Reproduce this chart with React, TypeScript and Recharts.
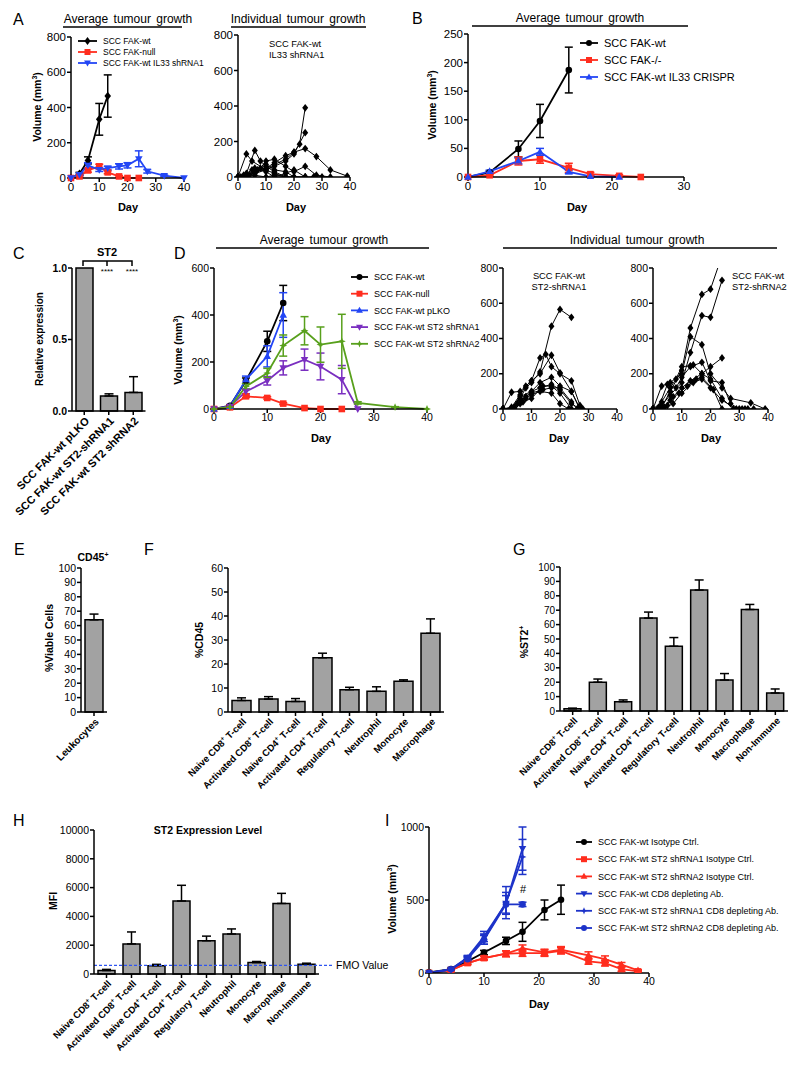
import React from "react";
import {
  Bar,
  BarChart,
  ErrorBar,
  Line,
  LineChart,
  ReferenceLine,
  Scatter,
  ScatterChart,
  XAxis,
  YAxis,
} from "recharts";

const FONT = "'Liberation Sans', Arial, Helvetica, sans-serif";
const RED = "#ff2d1e";
const BLUE = "#2346f5";
const DBLUE = "#1d33c9";
const PURPLE = "#7a2fc0";
const GREEN = "#58a01c";
const GREY = "#a2a2a2";

// ---- A: average growth
const A_WT_DAY = [0, 3, 6, 10, 13];
const A_WT_VOL = [0, 24, 100, 333, 465];
const A_WT_SEM = [0, 8, 20, 90, 120];
const A_NULL_DAY = [0, 3, 6, 10, 13, 17, 20, 24];
const A_NULL_VOL = [0, 9, 43, 66, 32, 9, 0, 0];
const A_NULL_SEM = [0, 4, 10, 12, 8, 5, 0, 0];
const A_IL33_DAY = [0, 3, 6, 10, 13, 17, 20, 24, 27, 33, 40];
const A_IL33_VOL = [0, 19, 72, 47, 56, 66, 72, 109, 38, 13, 0];
const A_IL33_SEM = [0, 5, 15, 10, 10, 15, 15, 45, 10, 4, 0];

// ---- A: individual tumours (IL33 shRNA1), [day, volume]
const A_TUMOURS = [
  [[0, 0], [3, 10], [6, 30], [10, 45], [13, 70], [17, 100], [20, 140], [22, 185], [24, 390]],
  [[0, 0], [3, 5], [6, 20], [10, 40], [13, 60], [17, 90], [20, 130], [24, 250]],
  [[0, 0], [3, 10], [6, 30], [10, 50], [13, 80], [17, 120], [20, 140], [24, 160], [28, 115], [33, 40], [39, 5]],
  [[0, 0], [3, 20], [6, 150], [8, 90], [10, 60], [13, 30], [17, 0], [20, 0]],
  [[0, 0], [3, 130], [5, 90], [10, 40], [13, 20], [17, 0], [24, 0]],
  [[0, 0], [2, 10], [5, 40], [8, 50], [10, 90], [13, 100], [17, 60], [20, 30], [24, 60], [28, 10], [33, 0]],
  [[0, 0], [3, 0], [6, 50], [10, 30], [13, 0], [17, 20], [20, 40], [24, 0], [27, 0], [30, 0]],
  [[0, 0], [4, 10], [7, 40], [10, 70], [13, 40], [17, 30], [20, 0], [24, 0]],
  [[1, 0], [3, 0], [6, 10], [10, 0], [13, 10], [17, 0]],
];

// ---- B
const B_WT_DAY = [0, 3, 7, 10, 14];
const B_WT_VOL = [0, 8, 49, 98, 187];
const B_WT_SEM = [0, 2, 14, 29, 40];
const B_KO_DAY = [0, 3, 7, 10, 14, 17, 21, 24];
const B_KO_VOL = [0, 3, 28, 31, 16, 5, 2, 0];
const B_KO_SEM = [0, 1, 7, 7, 8, 3, 2, 0];
const B_CR_DAY = [0, 3, 7, 10, 14, 17, 21];
const B_CR_VOL = [0, 10, 28, 44, 9, 1, 0];
const B_CR_SEM = [0, 2, 5, 6, 3, 1, 0];

// ---- C
const C_LINES = ["SCC FAK-wt pLKO", "SCC FAK-wt ST2-shRNA1", "SCC FAK-wt ST2 shRNA2"];
const C_EXPR = [1.0, 0.105, 0.13];
const C_SEM = [0, 0.015, 0.11];

// ---- D: average growth
const D_WT_DAY = [0, 3, 6, 10, 13];
const D_WT_VOL = [0, 14, 120, 288, 451];
const D_WT_SEM = [0, 3, 12, 43, 75];
const D_NULL_DAY = [0, 3, 6, 10, 13, 17, 20, 24];
const D_NULL_VOL = [0, 7, 54, 47, 23, 4, 0, 0];
const D_NULL_SEM = [0, 2, 5, 5, 4, 2, 0, 0];
const D_PLKO_DAY = [0, 3, 6, 10, 13];
const D_PLKO_VOL = [0, 11, 125, 224, 400];
const D_PLKO_SEM = [0, 3, 15, 45, 95];
const D_SH1_DAY = [0, 3, 6, 10, 13, 17, 20, 24, 27];
const D_SH1_VOL = [0, 11, 75, 120, 175, 210, 181, 125, 0];
const D_SH1_SEM = [0, 3, 10, 18, 30, 45, 57, 60, 0];
const D_SH2_DAY = [0, 3, 6, 10, 13, 17, 20, 24, 27, 34, 40];
const D_SH2_VOL = [0, 8, 96, 153, 270, 333, 274, 288, 26, 8, 0];
const D_SH2_SEM = [0, 2, 12, 20, 45, 60, 75, 115, 5, 2, 0];

// ---- D: individual tumours
const D_SH1_TUMOURS = [
  [[0, 0], [3, 5], [6, 60], [8, 120], [10, 150], [13, 210], [17, 470], [20, 565], [24, 520]],
  [[0, 0], [3, 95], [6, 100], [10, 160], [13, 290], [15, 310], [17, 240], [20, 200], [24, 160], [27, 20]],
  [[0, 0], [3, 10], [6, 80], [8, 130], [10, 160], [13, 200], [17, 305], [20, 205], [24, 100], [27, 0]],
  [[0, 0], [3, 0], [6, 70], [10, 100], [13, 150], [17, 180], [20, 130], [24, 100], [27, 0]],
  [[0, 0], [3, 0], [5, 30], [8, 70], [10, 100], [13, 120], [17, 140], [20, 110], [24, 30], [27, 0]],
  [[0, 0], [4, 10], [6, 50], [10, 90], [14, 110], [17, 120], [20, 120], [24, 40], [26, 0]],
  [[0, 0], [3, 0], [6, 30], [8, 60], [10, 80], [13, 100], [17, 90], [20, 30], [23, 0]],
  [[0, 0], [4, 0], [7, 40], [10, 60], [14, 130], [17, 130], [20, 90], [24, 0], [28, 0]],
];
const D_SH2_TUMOURS = [
  [[0, 0], [3, 10], [6, 100], [10, 220], [13, 460], [17, 650], [20, 680], [24, 870]],
  [[0, 0], [3, 20], [6, 80], [10, 150], [13, 320], [17, 530], [20, 520], [24, 730]],
  [[0, 0], [3, 130], [6, 150], [10, 200], [13, 410], [17, 365], [20, 200], [24, 120], [27, 60], [34, 35], [39, 0]],
  [[0, 0], [3, 40], [6, 120], [8, 170], [10, 240], [13, 245], [14, 250], [17, 200], [20, 240], [24, 290]],
  [[0, 0], [2, 10], [5, 140], [8, 120], [10, 180], [13, 240], [17, 265], [20, 160], [24, 150], [27, 30], [30, 0], [33, 0]],
  [[0, 0], [3, 0], [5, 20], [7, 70], [10, 120], [13, 160], [17, 200], [20, 170], [24, 60], [28, 0], [31, 0]],
  [[0, 0], [4, 10], [6, 50], [9, 90], [12, 130], [15, 170], [17, 180], [21, 110], [24, 0]],
  [[0, 0], [3, 0], [7, 30], [10, 90], [14, 150], [17, 170], [20, 120], [24, 50], [29, 0], [32, 0], [35, 0]],
];

// ---- E, F, G, H
const E_CELLS = ["Leukocytes"];
const E_PCT = [64];
const E_SEM = [4];
const F_CELLS = [
  "Naive CD8+ T-cell",
  "Activated CD8+ T-cell",
  "Naive CD4+ T-cell",
  "Activated CD4+ T-cell",
  "Regulatory T-cell",
  "Neutrophil",
  "Monocyte",
  "Macrophage",
];
const F_PCT = [4.8, 5.4, 4.4, 22.6, 9.3, 8.6, 12.8, 32.8];
const F_SEM = [1.1, 1.0, 1.2, 1.9, 1.0, 1.9, 0.6, 6.0];
const G_CELLS = [...F_CELLS, "Non-Immune"];
const G_PCT = [1.5, 20, 6.5, 64.5, 45, 84, 21.5, 70.5, 12.5];
const G_SEM = [0.5, 2.2, 1.2, 4.2, 6, 7, 4.5, 3.5, 2.8];
const H_MFI = [240, 2090, 580, 5070, 2310, 2780, 790, 4900, 670];
const H_SEM = [80, 830, 90, 1090, 320, 350, 80, 700, 80];
const H_FMO = 600;

// ---- I
const I_ISO_DAY = [0, 4, 7, 10, 14, 17, 21, 24];
const I_ISO_VOL = [5, 27, 80, 140, 220, 282, 432, 502];
const I_ISO_SEM = [0, 5, 10, 15, 25, 65, 68, 100];
const I_SH_DAY = [0, 4, 7, 10, 14, 17, 21, 24, 29, 32, 35, 38];
const I_SH1_VOL = [0, 20, 68, 102, 132, 136, 136, 152, 80, 68, 27, 11];
const I_SH1_SEM = [0, 5, 10, 12, 20, 22, 22, 22, 20, 20, 15, 5];
const I_SH2_VOL = [0, 20, 68, 102, 132, 170, 141, 159, 120, 95, 57, 18];
const I_SH2_SEM = [0, 5, 10, 12, 20, 22, 22, 22, 25, 22, 15, 5];
const I_CD8_DAY = [0, 4, 7, 10, 14, 17];
const I_CD8_VOL = [0, 25, 107, 250, 477, 852];
const I_CD8_SEM = [0, 5, 12, 35, 75, 148];
const I_SH1CD8_VOL = [0, 25, 102, 232, 482, 795];
const I_SH1CD8_SEM = [0, 5, 12, 35, 110, 120];
const I_SH2CD8_VOL = [0, 25, 95, 227, 470, 470];
const I_SH2CD8_SEM = [0, 5, 12, 30, 60, 15];

type Series = {
  key: string;
  label: string;
  day: number[];
  vol: number[];
  sem: number[];
  color: string;
  shape: string;
};

function table(series: Series[]) {
  const days = Array.from(new Set(series.flatMap((s) => s.day))).sort((a, b) => a - b);
  return days.map((d) => {
    const row: Record<string, number> = { day: d };
    series.forEach((s) => {
      const i = s.day.indexOf(d);
      if (i >= 0) {
        row[s.key] = s.vol[i];
        if (s.sem[i] > 0) row[s.key + "E"] = s.sem[i];
      }
    });
    return row;
  });
}

const A_SERIES: Series[] = [
  { key: "wt", label: "SCC FAK-wt", day: A_WT_DAY, vol: A_WT_VOL, sem: A_WT_SEM, color: "#000", shape: "diamond" },
  { key: "nul", label: "SCC FAK-null", day: A_NULL_DAY, vol: A_NULL_VOL, sem: A_NULL_SEM, color: RED, shape: "square" },
  { key: "il", label: "SCC FAK-wt IL33 shRNA1", day: A_IL33_DAY, vol: A_IL33_VOL, sem: A_IL33_SEM, color: BLUE, shape: "down" },
];
const B_SERIES: Series[] = [
  { key: "wt", label: "SCC FAK-wt", day: B_WT_DAY, vol: B_WT_VOL, sem: B_WT_SEM, color: "#000", shape: "circle" },
  { key: "ko", label: "SCC FAK-/-", day: B_KO_DAY, vol: B_KO_VOL, sem: B_KO_SEM, color: RED, shape: "square" },
  { key: "cr", label: "SCC FAK-wt IL33 CRISPR", day: B_CR_DAY, vol: B_CR_VOL, sem: B_CR_SEM, color: BLUE, shape: "up" },
];
const D_SERIES: Series[] = [
  { key: "wt", label: "SCC FAK-wt", day: D_WT_DAY, vol: D_WT_VOL, sem: D_WT_SEM, color: "#000", shape: "circle" },
  { key: "nul", label: "SCC FAK-null", day: D_NULL_DAY, vol: D_NULL_VOL, sem: D_NULL_SEM, color: RED, shape: "square" },
  { key: "pl", label: "SCC FAK-wt pLKO", day: D_PLKO_DAY, vol: D_PLKO_VOL, sem: D_PLKO_SEM, color: BLUE, shape: "up" },
  { key: "s1", label: "SCC FAK-wt ST2 shRNA1", day: D_SH1_DAY, vol: D_SH1_VOL, sem: D_SH1_SEM, color: PURPLE, shape: "down" },
  { key: "s2", label: "SCC FAK-wt ST2 shRNA2", day: D_SH2_DAY, vol: D_SH2_VOL, sem: D_SH2_SEM, color: GREEN, shape: "star" },
];
const I_SERIES: Series[] = [
  { key: "iso", label: "SCC FAK-wt Isotype Ctrl.", day: I_ISO_DAY, vol: I_ISO_VOL, sem: I_ISO_SEM, color: "#000", shape: "circle" },
  { key: "s1", label: "SCC FAK-wt ST2 shRNA1 Isotype Ctrl.", day: I_SH_DAY, vol: I_SH1_VOL, sem: I_SH1_SEM, color: RED, shape: "square" },
  { key: "s2", label: "SCC FAK-wt ST2 shRNA2 Isotype Ctrl.", day: I_SH_DAY, vol: I_SH2_VOL, sem: I_SH2_SEM, color: RED, shape: "up" },
  { key: "cd8", label: "SCC FAK-wt CD8 depleting Ab.", day: I_CD8_DAY, vol: I_CD8_VOL, sem: I_CD8_SEM, color: DBLUE, shape: "down" },
  { key: "c1", label: "SCC FAK-wt ST2 shRNA1 CD8 depleting Ab.", day: I_CD8_DAY, vol: I_SH1CD8_VOL, sem: I_SH1CD8_SEM, color: DBLUE, shape: "star" },
  { key: "c2", label: "SCC FAK-wt ST2 shRNA2 CD8 depleting Ab.", day: I_CD8_DAY, vol: I_SH2CD8_VOL, sem: I_SH2CD8_SEM, color: DBLUE, shape: "circle" },
];

function glyph(shape: string, cx: number, cy: number, r: number, color: string) {
  switch (shape) {
    case "circle":
      return <circle cx={cx} cy={cy} r={r} fill={color} />;
    case "square":
      return <rect x={cx - r} y={cy - r} width={2 * r} height={2 * r} fill={color} />;
    case "diamond":
      return <polygon points={`${cx},${cy - r * 1.3} ${cx + r},${cy} ${cx},${cy + r * 1.3} ${cx - r},${cy}`} fill={color} />;
    case "up":
      return <polygon points={`${cx},${cy - r * 1.2} ${cx + r * 1.15},${cy + r * 0.8} ${cx - r * 1.15},${cy + r * 0.8}`} fill={color} />;
    case "down":
      return <polygon points={`${cx},${cy + r * 1.2} ${cx + r * 1.15},${cy - r * 0.8} ${cx - r * 1.15},${cy - r * 0.8}`} fill={color} />;
    default: {
      const a = r * 1.2;
      const b = r * 0.35;
      return (
        <polygon
          points={`${cx},${cy - a} ${cx + b},${cy - b} ${cx + a},${cy} ${cx + b},${cy + b} ${cx},${cy + a} ${cx - b},${cy + b} ${cx - a},${cy} ${cx - b},${cy - b}`}
          fill={color}
        />
      );
    }
  }
}

function marker(shape: string, color: string, r = 3.3) {
  return (p: any) => {
    const { cx, cy, index } = p;
    if (typeof cx !== "number" || typeof cy !== "number" || isNaN(cy) || p.value == null)
      return <g key={`n${index}`} />;
    return <g key={`d${index}`}>{glyph(shape, cx, cy, r, color)}</g>;
  };
}

function frame(x0: number, y0: number, x1: number, y1: number, xh = 24, mr = 12, ml = 0) {
  const yw = 46;
  const mt = 12;
  return {
    style: { position: "absolute" as const, left: x0 - yw - ml, top: y0 - mt },
    width: x1 - x0 + yw + mr + ml,
    height: y1 - y0 + mt + xh,
    margin: { top: mt, right: mr, bottom: 0, left: ml },
    yw,
    xh,
  };
}

const axisLine = { stroke: "#000", strokeWidth: 1.5 };
const tickLine = { stroke: "#000", strokeWidth: 1.5 };
const tickStyle = (fs: number, bold = false) => ({
  fontSize: fs,
  fill: "#000",
  fontFamily: FONT,
  fontWeight: bold ? "bold" : "normal",
});

function AvgChart({ f, series, xMax, xTicks, yMax, yTicks, fs, overflow = false }: any) {
  const data = table(series);
  return (
    <div style={f.style}>
      <LineChart width={f.width} height={f.height} margin={f.margin} data={data}>
        <XAxis
          type="number"
          dataKey="day"
          domain={[0, xMax]}
          ticks={xTicks}
          interval={0}
          height={f.xh}
          axisLine={axisLine}
          tickLine={tickLine}
          tickSize={4}
          tickMargin={1}
          tick={tickStyle(fs)}
        />
        <YAxis
          type="number"
          domain={[0, yMax]}
          ticks={yTicks}
          interval={0}
          width={f.yw}
          allowDataOverflow={overflow}
          axisLine={axisLine}
          tickLine={tickLine}
          tickSize={4}
          tickMargin={1}
          tick={tickStyle(fs)}
        />
        {series.map((s: Series) => (
          <Line
            key={s.key}
            dataKey={s.key}
            stroke={s.color}
            strokeWidth={1.8}
            connectNulls
            dot={marker(s.shape, s.color)}
            activeDot={false}
            isAnimationActive={false}
          >
            <ErrorBar dataKey={s.key + "E"} width={4} stroke={s.color} strokeWidth={1.5} direction="y" isAnimationActive={false} />
          </Line>
        ))}
      </LineChart>
    </div>
  );
}

function diamondShape(p: any) {
  if (typeof p.cx !== "number" || typeof p.cy !== "number") return <g />;
  return glyph("diamond", p.cx, p.cy, 3, "#000");
}

function IndivChart({ f, tumours, fs }: any) {
  return (
    <div style={f.style}>
      <ScatterChart width={f.width} height={f.height} margin={f.margin}>
        <XAxis
          type="number"
          dataKey="x"
          domain={[0, 40]}
          ticks={[0, 10, 20, 30, 40]}
          interval={0}
          height={f.xh}
          axisLine={axisLine}
          tickLine={tickLine}
          tickSize={4}
          tickMargin={1}
          tick={tickStyle(fs)}
        />
        <YAxis
          type="number"
          dataKey="y"
          domain={[0, 800]}
          ticks={[0, 200, 400, 600, 800]}
          interval={0}
          width={f.yw}
          allowDataOverflow
          axisLine={axisLine}
          tickLine={tickLine}
          tickSize={4}
          tickMargin={1}
          tick={tickStyle(fs)}
        />
        {tumours.map((t: number[][], i: number) => (
          <Scatter
            key={i}
            data={t.map(([x, y]) => ({ x, y }))}
            fill="#000"
            line={{ stroke: "#000", strokeWidth: 1 }}
            shape={diamondShape}
            isAnimationActive={false}
          />
        ))}
      </ScatterChart>
    </div>
  );
}

function withSup(label: string, fs: number) {
  const i = label.indexOf("+");
  if (i < 0) return label;
  return [
    label.slice(0, i),
    <tspan key="s" dy={-fs * 0.4} fontSize={fs * 0.65}>+</tspan>,
    <tspan key="r" dy={fs * 0.4}>{label.slice(i + 1)}</tspan>,
  ];
}

function rotTick(fs: number) {
  return (p: any) => (
    <g transform={`translate(${p.x + 3},${p.y + 2})`}>
      <text
        transform="rotate(-45)"
        textAnchor="end"
        dy={fs * 0.35}
        fontSize={fs}
        fontWeight="bold"
        fontFamily={FONT}
        fill="#000"
      >
        {withSup(String(p.payload.value), fs)}
      </text>
    </g>
  );
}

function BarPanel({ f, cats, vals, errs, yMax, yTicks, fs, boldY = false, fmt, barSize, labelFs, children }: any) {
  const data = cats.map((c: string, i: number) => ({
    cell: c,
    v: vals[i],
    e: errs[i] > 0 ? [0, errs[i]] : undefined,
  }));
  return (
    <div style={f.style}>
      <BarChart width={f.width} height={f.height} margin={f.margin} data={data}>
        <XAxis
          dataKey="cell"
          type="category"
          interval={0}
          height={f.xh}
          axisLine={axisLine}
          tickLine={tickLine}
          tickSize={4}
          tick={rotTick(labelFs)}
        />
        <YAxis
          type="number"
          domain={[0, yMax]}
          ticks={yTicks}
          interval={0}
          width={f.yw}
          axisLine={axisLine}
          tickLine={tickLine}
          tickSize={4}
          tickMargin={1}
          tickFormatter={fmt}
          tick={tickStyle(fs, boldY)}
        />
        <Bar dataKey="v" fill={GREY} stroke="#000" strokeWidth={1.5} barSize={barSize} isAnimationActive={false}>
          <ErrorBar dataKey="e" width={4.5} stroke="#000" strokeWidth={1.5} direction="y" isAnimationActive={false} />
        </Bar>
        {children}
      </BarChart>
    </div>
  );
}

function Legend({ x, y, dy, w, fs, series }: any) {
  return (
    <g>
      {series.map((s: Series, i: number) => (
        <g key={s.key}>
          <line x1={x} x2={x + w} y1={y + i * dy} y2={y + i * dy} stroke={s.color} strokeWidth={1.8} />
          {glyph(s.shape, x + w / 2, y + i * dy, 3, s.color)}
          <text x={x + w + 6} y={y + i * dy + fs * 0.36} fontSize={fs}>
            {s.label}
          </text>
        </g>
      ))}
    </g>
  );
}

function VLabel({ x, y, fs = 10.5, children }: any) {
  return (
    <text transform={`translate(${x + fs * 0.36},${y}) rotate(-90)`} textAnchor="middle" fontSize={fs} fontWeight="bold">
      {children}
    </text>
  );
}

const vol = (
  <>
    Volume (mm<tspan dy={-4} fontSize={7}>3</tspan>
    <tspan dy={4}>)</tspan>
  </>
);

function Title({ x, y, x1, x2, text }: any) {
  return (
    <g>
      <text x={x} y={y} textAnchor="middle" fontSize={12} wordSpacing={2}>
        {text}
      </text>
      <line x1={x1} x2={x2} y1={y + 4} y2={y + 4} stroke="#000" strokeWidth={1.5} />
    </g>
  );
}

export default function App() {
  const fAL = frame(71, 37, 184, 178);
  const fAR = frame(238, 35, 350, 177);
  const fB = frame(468, 34, 684, 177);
  const fC = frame(72, 268, 145.5, 411, 130, 8, 26);
  const fDL = frame(214, 268, 427, 409);
  const fD1 = frame(503, 268, 617, 409);
  const fD2 = frame(653, 268, 768, 409);
  const fE = frame(81, 568, 107, 712, 80, 8, 20);
  const fF = frame(228, 568, 444, 712, 110, 8, 20);
  const fG = frame(560, 567, 788, 711, 110, 8, 20);
  const fH = frame(94, 830, 319, 974, 100, 80, 48);
  const fI = frame(429, 827, 649, 973);

  return (
    <div style={{ position: "absolute", left: 0, top: 0, width: 800, height: 1078, background: "#fff", fontFamily: FONT }}>
      <AvgChart f={fAL} series={A_SERIES} xMax={40} xTicks={[0, 10, 20, 30, 40]} yMax={800} yTicks={[0, 200, 400, 600, 800]} fs={11.5} />
      <IndivChart f={fAR} tumours={A_TUMOURS} fs={11.5} />
      <AvgChart f={fB} series={B_SERIES} xMax={30} xTicks={[0, 10, 20, 30]} yMax={250} yTicks={[0, 50, 100, 150, 200, 250]} fs={11.5} />
      <BarPanel f={fC} cats={C_LINES} vals={C_EXPR} errs={C_SEM} yMax={1} yTicks={[0, 0.5, 1]} fs={10.5} boldY fmt={(v: number) => v.toFixed(1)} barSize={17} labelFs={11} />
      <AvgChart f={fDL} series={D_SERIES} xMax={40} xTicks={[0, 10, 20, 30, 40]} yMax={600} yTicks={[0, 200, 400, 600]} fs={10.5} />
      <IndivChart f={fD1} tumours={D_SH1_TUMOURS} fs={10.5} />
      <IndivChart f={fD2} tumours={D_SH2_TUMOURS} fs={10.5} />
      <BarPanel f={fE} cats={E_CELLS} vals={E_PCT} errs={E_SEM} yMax={100} yTicks={[0, 10, 20, 30, 40, 50, 60, 70, 80, 90, 100]} fs={10.5} barSize={18} labelFs={10} />
      <BarPanel f={fF} cats={F_CELLS} vals={F_PCT} errs={F_SEM} yMax={60} yTicks={[0, 10, 20, 30, 40, 50, 60]} fs={10.5} barSize={19} labelFs={9.5} />
      <BarPanel f={fG} cats={G_CELLS} vals={G_PCT} errs={G_SEM} yMax={100} yTicks={[0, 10, 20, 30, 40, 50, 60, 70, 80, 90, 100]} fs={10} barSize={17} labelFs={9.5} />
      <BarPanel f={fH} cats={G_CELLS} vals={H_MFI} errs={H_SEM} yMax={10000} yTicks={[0, 2000, 4000, 6000, 8000, 10000]} fs={10.5} barSize={17} labelFs={9.5}>
        <ReferenceLine
          y={H_FMO}
          stroke="#2f55f0"
          strokeDasharray="3 2"
          strokeWidth={1.2}
          shape={(p: any) => <line x1={p.x1} y1={p.y1} x2={p.x2 + 15} y2={p.y2} stroke="#2f55f0" strokeWidth={1.2} strokeDasharray="3 2" />}
          label={{ value: "FMO Value", position: "right", offset: 17, fill: "#000", fontSize: 10.5, fontFamily: FONT }}
        />
      </BarPanel>
      <AvgChart f={fI} series={I_SERIES} xMax={40} xTicks={[0, 10, 20, 30, 40]} yMax={1000} yTicks={[0, 500, 1000]} fs={10.5} overflow />

      <svg width={800} height={1078} style={{ position: "absolute", left: 0, top: 0, pointerEvents: "none" }} fontFamily={FONT} fill="#000">
        {/* panel letters */}
        <g fontSize={16}>
          <text x={13} y={25}>A</text>
          <text x={412} y={24}>B</text>
          <text x={13} y={259}>C</text>
          <text x={174} y={259}>D</text>
          <text x={14} y={555}>E</text>
          <text x={144} y={555}>F</text>
          <text x={513} y={555}>G</text>
          <text x={13} y={826}>H</text>
          <text x={385} y={826}>I</text>
        </g>

        <Title x={128} y={23} x1={63} x2={182} text="Average tumour growth" />
        <Title x={298} y={23} x1={231} x2={366} text="Individual tumour growth" />
        <Title x={580} y={22} x1={472} x2={688} text="Average tumour growth" />
        <Title x={324} y={244} x1={216} x2={429} text="Average tumour growth" />
        <Title x={637} y={244} x1={503} x2={777} text="Individual tumour growth" />

        <Legend x={78} y={41} dy={11} w={19} fs={8.5} series={A_SERIES} />
        <Legend x={580} y={43} dy={17} w={18} fs={11} series={B_SERIES} />
        <Legend x={351} y={277} dy={16.7} w={17} fs={9} series={D_SERIES} />
        <Legend x={576} y={842} dy={17.2} w={16} fs={9} series={I_SERIES} />

        <g fontSize={9.3}>
          <text x={269} y={47}>SCC FAK-wt</text>
          <text x={269} y={58}>IL33 shRNA1</text>
          <text x={559} y={279} textAnchor="middle">SCC FAK-wt</text>
          <text x={559} y={290} textAnchor="middle">ST2-shRNA1</text>
          <text x={732} y={279}>SCC FAK-wt</text>
          <text x={732} y={290}>ST2-shRNA2</text>
        </g>

        <g fontSize={11} fontWeight="bold" textAnchor="middle">
          <text x={128} y={211}>Day</text>
          <text x={296} y={211}>Day</text>
          <text x={577} y={211}>Day</text>
          <text x={321} y={442}>Day</text>
          <text x={559} y={442}>Day</text>
          <text x={711} y={442}>Day</text>
          <text x={539} y={1008}>Day</text>
        </g>

        <VLabel x={37} y={107}>{vol}</VLabel>
        <VLabel x={432} y={105}>{vol}</VLabel>
        <VLabel x={178} y={350}>{vol}</VLabel>
        <VLabel x={392} y={899}>{vol}</VLabel>
        <VLabel x={39} y={339} fs={10}>Relative expression</VLabel>
        <VLabel x={49} y={638}>%Viable Cells</VLabel>
        <VLabel x={199} y={640}>%CD45</VLabel>
        <VLabel x={524} y={642}>
          %ST2<tspan dy={-4} fontSize={7}>+</tspan>
        </VLabel>
        <VLabel x={53} y={901}>MFI</VLabel>

        {/* C bracket */}
        <text x={107} y={256} textAnchor="middle" fontSize={11} fontWeight="bold">ST2</text>
        <g stroke="#000" strokeWidth={1.5} fill="none">
          <polyline points="83,266 83,261 132,261 132,266" />
          <line x1={107} y1={261} x2={107} y2={266} />
        </g>
        <g fontSize={8} textAnchor="middle">
          <text x={107} y={274}>****</text>
          <text x={132} y={274}>****</text>
        </g>

        <text x={93} y={561} textAnchor="middle" fontSize={10.5} fontWeight="bold">
          CD45<tspan dy={-4} fontSize={7}>+</tspan>
        </text>
        <text x={208} y={834} textAnchor="middle" fontSize={10.5} fontWeight="bold">ST2 Expression Level</text>
        <text x={523} y={893} textAnchor="middle" fontSize={11}>#</text>
      </svg>
    </div>
  );
}
